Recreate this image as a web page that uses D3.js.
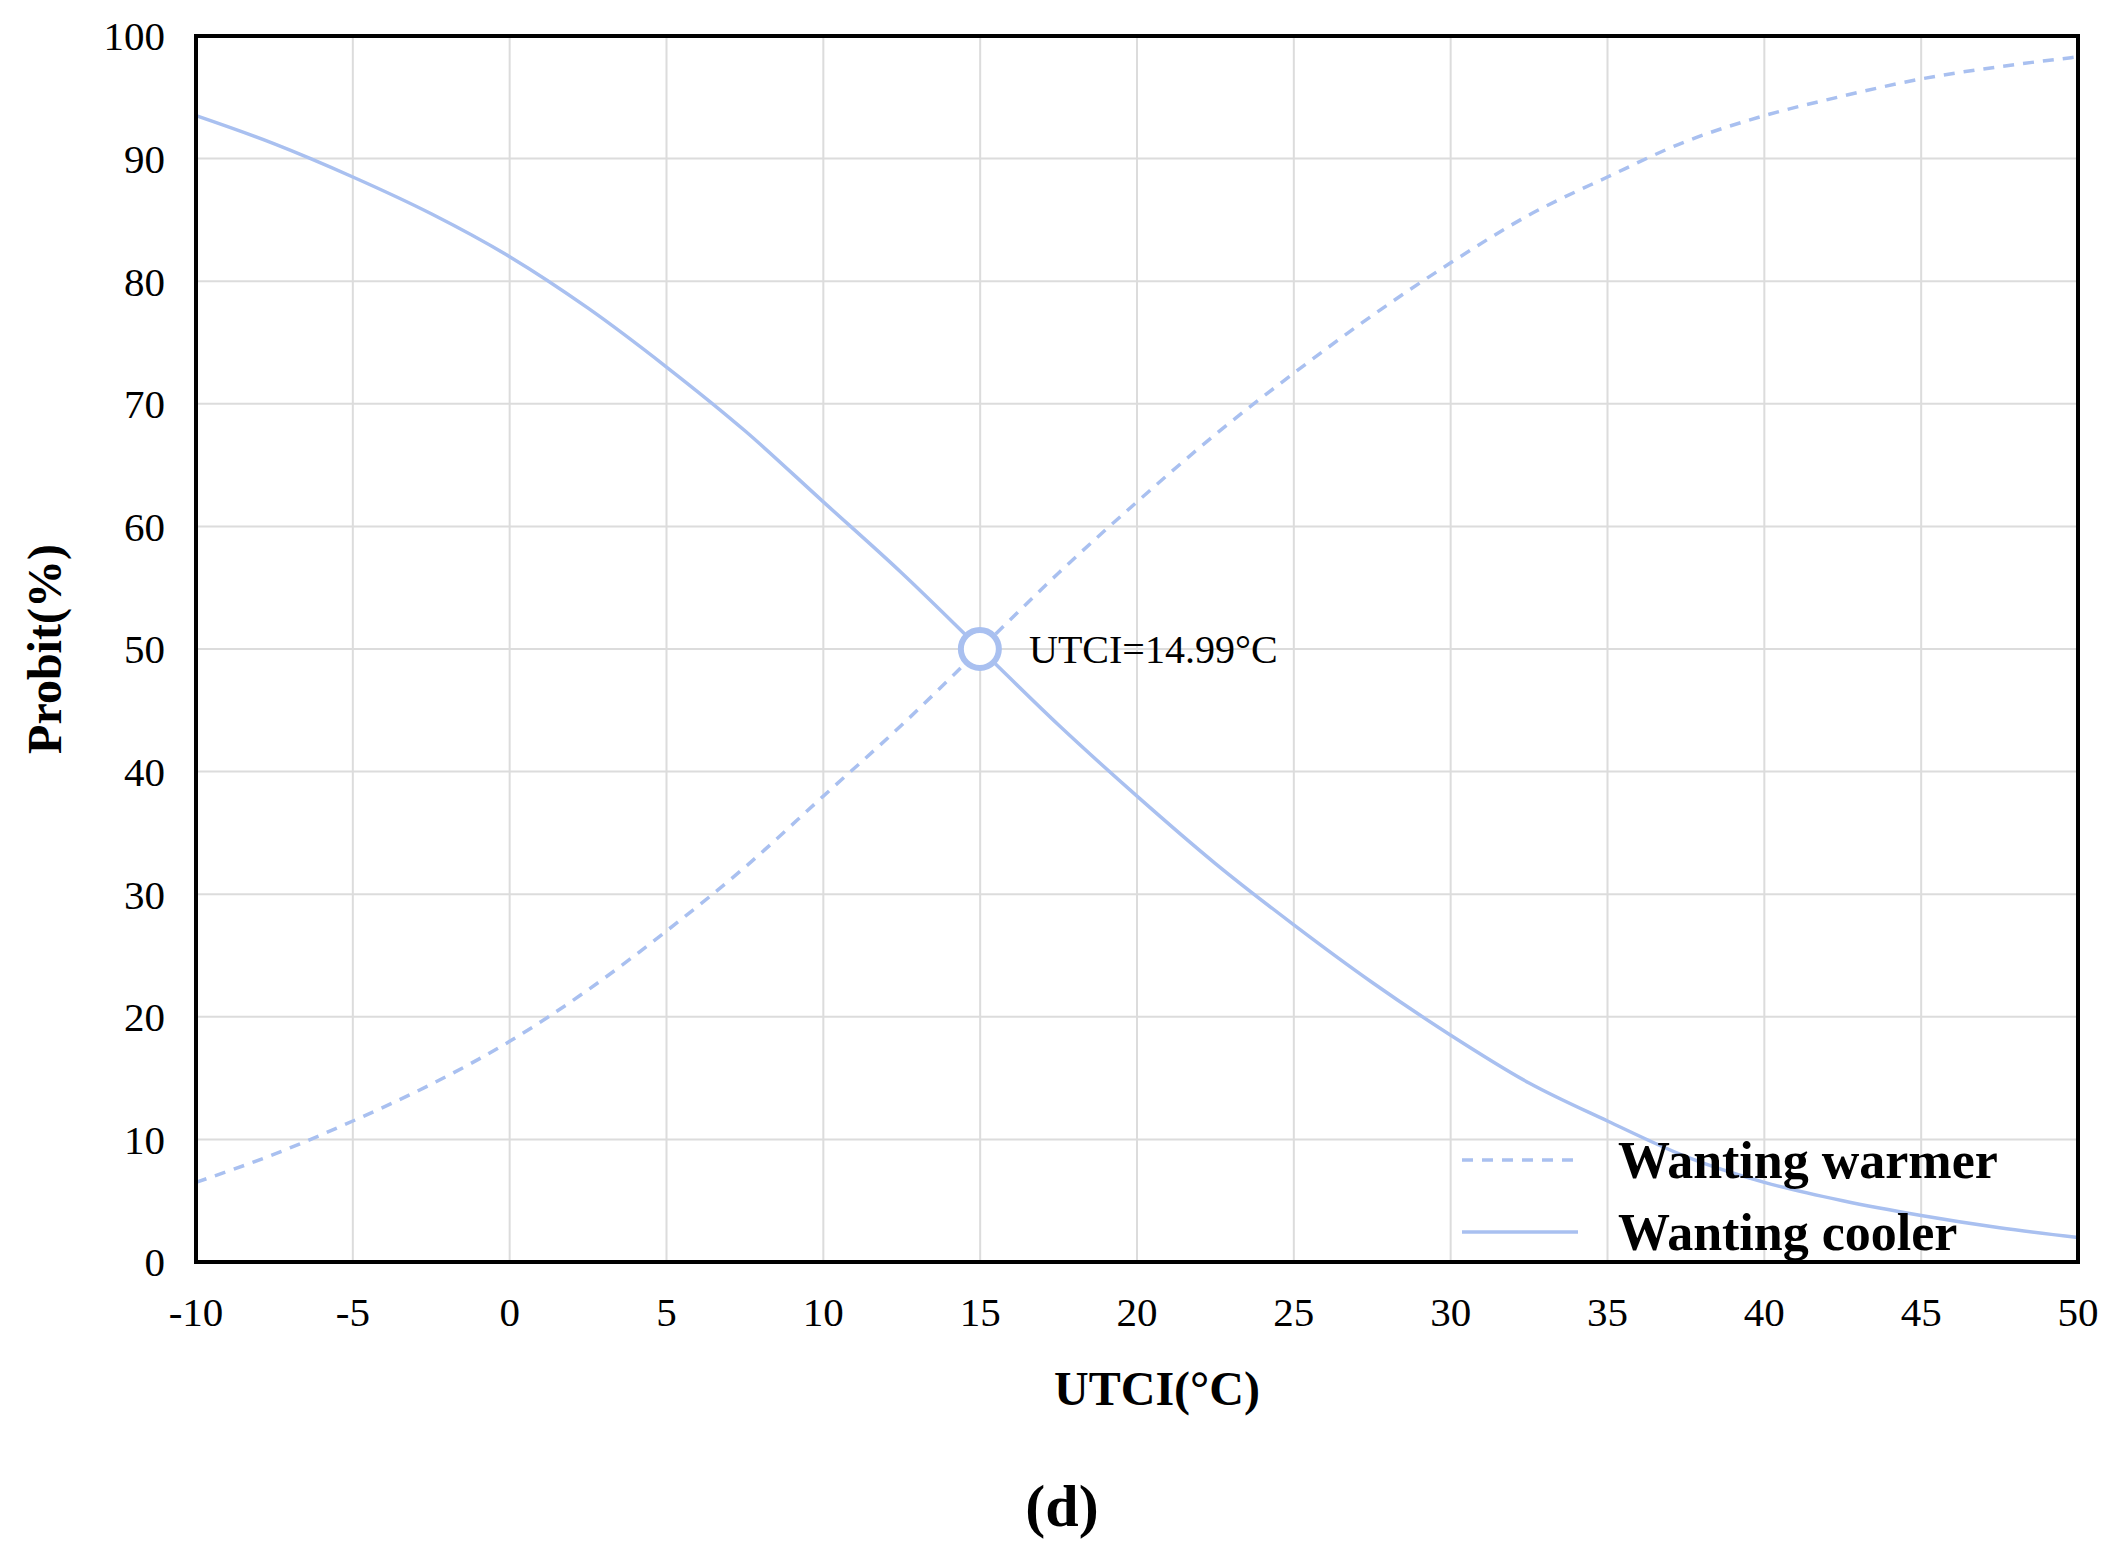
<!DOCTYPE html>
<html>
<head>
<meta charset="UTF-8">
<script src="https://d3js.org/d3.v7.min.js"></script>
<style>body{margin:0;background:#fff}</style>
</head>
<body>
<svg id="chart"></svg>
<script>
// data
var utci = [-10, -7.5, -5, -2.5, 0, 2.5, 5, 7.5, 10, 12.5, 15, 17.5, 20, 22.5, 25, 27.5, 30, 32.5, 35, 37.5, 40, 42.5, 45, 47.5, 50];
var cooler = [93.5, 91.2, 88.5, 85.5, 82, 77.8, 73, 67.8, 62, 56.2, 50, 43.8, 38, 32.5, 27.5, 22.8, 18.5, 14.6, 11.5, 8.6, 6.5, 5.0, 3.8, 2.8, 2];
var warmer = [6.5, 8.8, 11.5, 14.5, 18, 22.2, 27, 32.2, 38, 43.8, 50, 56.2, 62, 67.5, 72.5, 77.2, 81.5, 85.4, 88.5, 91.4, 93.5, 95.1, 96.5, 97.5, 98.3];
var xTicks = [-10, -5, 0, 5, 10, 15, 20, 25, 30, 35, 40, 45, 50];
var yTicks = [0, 10, 20, 30, 40, 50, 60, 70, 80, 90, 100];

var W = 2119, H = 1564;
var m = {left: 196, right: 2078, top: 36, bottom: 1262};
var col = "#a9c0f0";
var font = "'Liberation Serif', 'DejaVu Serif', serif";

var svg = d3.select("#chart").attr("width", W).attr("height", H)
    .style("font-family", font);

var x = d3.scaleLinear().domain([-10, 50]).range([m.left, m.right]);
var y = d3.scaleLinear().domain([0, 100]).range([m.bottom, m.top]);

// grid
svg.append("g").selectAll("line").data(xTicks).enter().append("line")
    .attr("x1", d => x(d)).attr("x2", d => x(d))
    .attr("y1", m.top).attr("y2", m.bottom)
    .attr("stroke", "#dcdcdc").attr("stroke-width", 2);
svg.append("g").selectAll("line").data(yTicks).enter().append("line")
    .attr("x1", m.left).attr("x2", m.right)
    .attr("y1", d => y(d)).attr("y2", d => y(d))
    .attr("stroke", "#dcdcdc").attr("stroke-width", 2);

// tick labels
svg.append("g").selectAll("text").data(yTicks).enter().append("text")
    .attr("x", 165).attr("y", d => y(d)).attr("dy", "0.35em")
    .attr("text-anchor", "end").attr("font-size", 41).text(d => d);
svg.append("g").selectAll("text").data(xTicks).enter().append("text")
    .attr("x", d => x(d)).attr("y", 1312).attr("dy", "0.35em")
    .attr("text-anchor", "middle").attr("font-size", 41).text(d => d);

// lines
var line = d3.line().x(d => x(d[0])).y(d => y(d[1])).curve(d3.curveMonotoneX);
svg.append("path").datum(utci.map((u, i) => [u, warmer[i]]))
    .attr("d", line).attr("fill", "none").attr("stroke", col)
    .attr("stroke-width", 3.5).attr("stroke-dasharray", "11,9");
svg.append("path").datum(utci.map((u, i) => [u, cooler[i]]))
    .attr("d", line).attr("fill", "none").attr("stroke", col)
    .attr("stroke-width", 3.5);

// frame
svg.append("rect").attr("x", m.left).attr("y", m.top)
    .attr("width", m.right - m.left).attr("height", m.bottom - m.top)
    .attr("fill", "none").attr("stroke", "#000").attr("stroke-width", 4);

// crossing marker
svg.append("circle").attr("cx", x(14.99)).attr("cy", y(50)).attr("r", 19)
    .attr("fill", "#fff").attr("stroke", col).attr("stroke-width", 6);
svg.append("text").attr("x", 1029).attr("y", y(50)).attr("dy", "0.35em")
    .attr("font-size", 40).text("UTCI=14.99°C");

// legend
var leg = [["Wanting warmer", "11,9", 1160], ["Wanting cooler", null, 1232]];
leg.forEach(function(l) {
    svg.append("line").attr("x1", 1462).attr("x2", 1578)
        .attr("y1", l[2]).attr("y2", l[2]).attr("stroke", col)
        .attr("stroke-width", 3.5).attr("stroke-dasharray", l[1]);
    svg.append("text").attr("x", 1618).attr("y", l[2]).attr("dy", "0.35em")
        .attr("font-size", 52).attr("font-weight", "bold").text(l[0]);
});

// axis titles
svg.append("text").attr("x", (m.left + m.right) / 2 + 20).attr("y", 1388).attr("dy", "0.35em")
    .attr("text-anchor", "middle").attr("font-size", 48).attr("font-weight", "bold")
    .text("UTCI(°C)");
svg.append("text").attr("transform", "translate(44," + y(50) + ") rotate(-90)")
    .attr("dy", "0.35em").attr("text-anchor", "middle").attr("font-size", 48)
    .attr("font-weight", "bold").text("Probit(%)");
svg.append("text").attr("x", 1062).attr("y", 1505).attr("dy", "0.35em")
    .attr("text-anchor", "middle").attr("font-size", 60).attr("font-weight", "bold")
    .text("(d)");
</script>
</body>
</html>
